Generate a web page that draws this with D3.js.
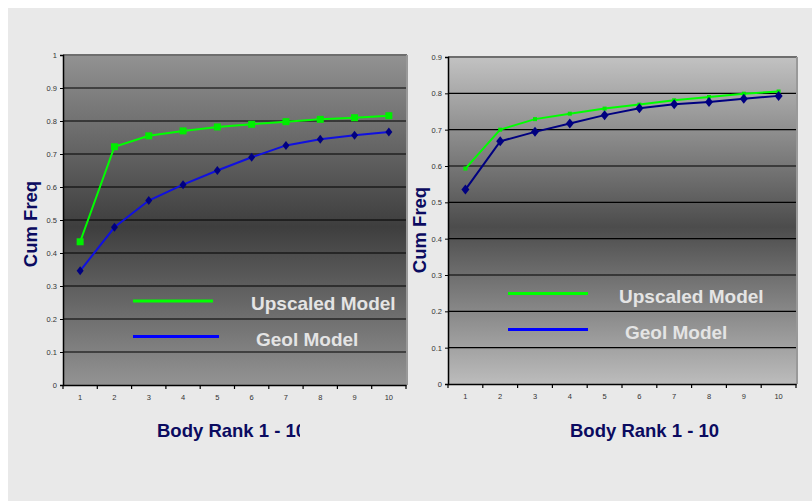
<!DOCTYPE html>
<html><head><meta charset="utf-8">
<script src="https://cdn.jsdelivr.net/npm/d3@7"></script>
<style>html,body{margin:0;padding:0;background:#fff;}svg{display:block;}</style>
</head><body>
<svg id="c" width="812" height="501"></svg>
<script>
const categories = [1,2,3,4,5,6,7,8,9,10];
const leftUpscaled = [0.434,0.722,0.755,0.770,0.782,0.790,0.798,0.805,0.810,0.816];
const leftGeol     = [0.346,0.478,0.559,0.607,0.650,0.690,0.726,0.745,0.757,0.767];
const rightUpscaled= [0.593,0.700,0.729,0.744,0.758,0.769,0.781,0.790,0.799,0.805];
const rightGeol    = [0.535,0.668,0.694,0.717,0.740,0.759,0.770,0.776,0.785,0.793];
const leftYTicks  = [0,0.1,0.2,0.3,0.4,0.5,0.6,0.7,0.8,0.9,1];
const rightYTicks = [0,0.1,0.2,0.3,0.4,0.5,0.6,0.7,0.8,0.9];
const seriesNames = ["Upscaled Model","Geol Model"];
const xTitle = "Body Rank 1 - 10";
const yTitle = "Cum Freq";

const svg = d3.select("#c");
svg.append("rect").attr("x",8).attr("y",8).attr("width",804).attr("height",493).attr("fill","#e9e9e9");
const defs = svg.append("defs");
const FONT = "Arial, 'Liberation Sans', sans-serif";

function panel(cfg){
  const {id,x0,x1,y0,y1,ymax,yTicks,up,geol,gradTop,gradMid,gradBot,upMarker,geolLine,dw,dh,legend,yTitlePos,xTitlePos,xTitleClip} = cfg;
  const g = svg.append("g");
  const grad = defs.append("linearGradient").attr("id",id).attr("x1",0).attr("y1",0).attr("x2",0).attr("y2",1);
  grad.append("stop").attr("offset","0%").attr("stop-color",gradTop);
  grad.append("stop").attr("offset","52%").attr("stop-color",gradMid);
  grad.append("stop").attr("offset","100%").attr("stop-color",gradBot);
  const x = d3.scaleBand().domain(categories).range([x0,x1]).padding(0);
  const y = d3.scaleLinear().domain([0,ymax]).range([y1,y0]);
  g.append("rect").attr("x",x0).attr("y",y0).attr("width",x1-x0).attr("height",y1-y0).attr("fill",`url(#${id})`);
  g.selectAll(".grid").data(yTicks.filter(d=>d>0 && d<ymax)).enter().append("line")
    .attr("x1",x0).attr("x2",x1).attr("y1",d=>y(d)).attr("y2",d=>y(d))
    .attr("stroke","#000").attr("stroke-width",1.2);
  g.append("line").attr("x1",x0).attr("x2",x1+1).attr("y1",y0).attr("y2",y0).attr("stroke","#6e6e6e").attr("stroke-width",2);
  g.append("line").attr("x1",x1+1).attr("x2",x1+1).attr("y1",y0).attr("y2",y1).attr("stroke","#999").attr("stroke-width",2);
  const yAxis = d3.axisLeft(y).tickValues(yTicks).tickSize(3).tickFormat(d=>d===0?"0":d===1?"1":d3.format(".1f")(d));
  const ya = g.append("g").attr("transform",`translate(${x0},0)`).call(yAxis);
  ya.select(".domain").attr("stroke","#000").attr("stroke-width",1.5);
  ya.selectAll(".tick line").attr("stroke","#000");
  ya.selectAll("text").attr("font-family",FONT).attr("font-size",7.5).attr("fill","#333").attr("x",-6);
  const xAxis = d3.axisBottom(x).tickSize(0).tickPadding(10);
  const xa = g.append("g").attr("transform",`translate(0,${y1})`).call(xAxis);
  xa.select(".domain").attr("stroke","#000").attr("stroke-width",1.5);
  xa.selectAll("text").attr("font-family",FONT).attr("font-size",7.5).attr("fill","#333");
  g.selectAll(".bt").data(categories.concat([null])).enter().append("line")
    .attr("x1",(d,i)=>x0+i*x.bandwidth()).attr("x2",(d,i)=>x0+i*x.bandwidth())
    .attr("y1",y1).attr("y2",y1+4).attr("stroke","#000").attr("stroke-width",1.2);
  const cx = d=>x(d)+x.bandwidth()/2;
  const line = d3.line().x((d,i)=>cx(categories[i])).y(d=>y(d));
  g.append("path").datum(up).attr("d",line).attr("fill","none").attr("stroke","#00ff00").attr("stroke-width",2);
  g.selectAll(".sq").data(up).enter().append("rect")
    .attr("x",(d,i)=>cx(categories[i])-upMarker/2).attr("y",d=>y(d)-upMarker/2)
    .attr("width",upMarker).attr("height",upMarker).attr("fill","#00ee00");
  g.append("path").datum(geol).attr("d",line).attr("fill","none").attr("stroke",geolLine).attr("stroke-width",2);
  const dpath = `M0,${-dh/2}L${dw/2},0L0,${dh/2}L${-dw/2},0Z`;
  g.selectAll(".dm").data(geol).enter().append("path")
    .attr("d",dpath).attr("transform",(d,i)=>`translate(${cx(categories[i])},${y(d)})`).attr("fill","#000080");
  const L = legend;
  g.append("line").attr("x1",L.lx0).attr("x2",L.lx1a).attr("y1",L.ly1).attr("y2",L.ly1).attr("stroke","#00ff00").attr("stroke-width",3);
  g.append("line").attr("x1",L.lx0).attr("x2",L.lx1b).attr("y1",L.ly2).attr("y2",L.ly2).attr("stroke","#0000ff").attr("stroke-width",3);
  g.append("text").attr("x",L.tx1).attr("y",L.ty1).text(seriesNames[0])
    .attr("font-family",FONT).attr("font-weight","bold").attr("font-size",19).attr("fill","#e4e4e4");
  g.append("text").attr("x",L.tx2).attr("y",L.ty2).text(seriesNames[1])
    .attr("font-family",FONT).attr("font-weight","bold").attr("font-size",19).attr("fill","#e4e4e4");
  g.append("text").attr("transform",`translate(${yTitlePos[0]},${yTitlePos[1]}) rotate(-90)`).attr("text-anchor","middle")
    .text(yTitle).attr("font-family",FONT).attr("font-weight","bold").attr("font-size",18.5).attr("fill","#0b0b60");
  const xt = g.append("text").attr("x",xTitlePos[0]).attr("y",xTitlePos[1]).text(xTitle)
    .attr("font-family",FONT).attr("font-weight","bold").attr("font-size",18.5).attr("fill","#0b0b60");
  if (xTitleClip){
    defs.append("clipPath").attr("id",id+"clip").append("rect").attr("x",0).attr("y",0).attr("width",xTitleClip).attr("height",501);
    xt.attr("clip-path",`url(#${id}clip)`);
  }
}

panel({id:"gl",x0:63,x1:406,y0:55,y1:385,ymax:1,yTicks:leftYTicks,up:leftUpscaled,geol:leftGeol,
  gradTop:"#929292",gradMid:"#3e3e3e",gradBot:"#939393",upMarker:7,geolLine:"#1010e0",dw:7,dh:9,
  legend:{lx0:133,lx1a:213,lx1b:219,ly1:301,ly2:336.5,tx1:251,ty1:310,tx2:256,ty2:346},
  yTitlePos:[37,224],xTitlePos:[157,437],xTitleClip:300});
panel({id:"gr",x0:448,x1:796,y0:57,y1:384,ymax:0.9,yTicks:rightYTicks,up:rightUpscaled,geol:rightGeol,
  gradTop:"#c2c2c2",gradMid:"#4c4c4c",gradBot:"#bcbcbc",upMarker:4,geolLine:"#000080",dw:8,dh:10,
  legend:{lx0:508,lx1a:588,lx1b:588,ly1:293.5,ly2:329.5,tx1:619,ty1:303,tx2:625,ty2:339},
  yTitlePos:[426,230],xTitlePos:[570,437],xTitleClip:null});
</script>
</body></html>
